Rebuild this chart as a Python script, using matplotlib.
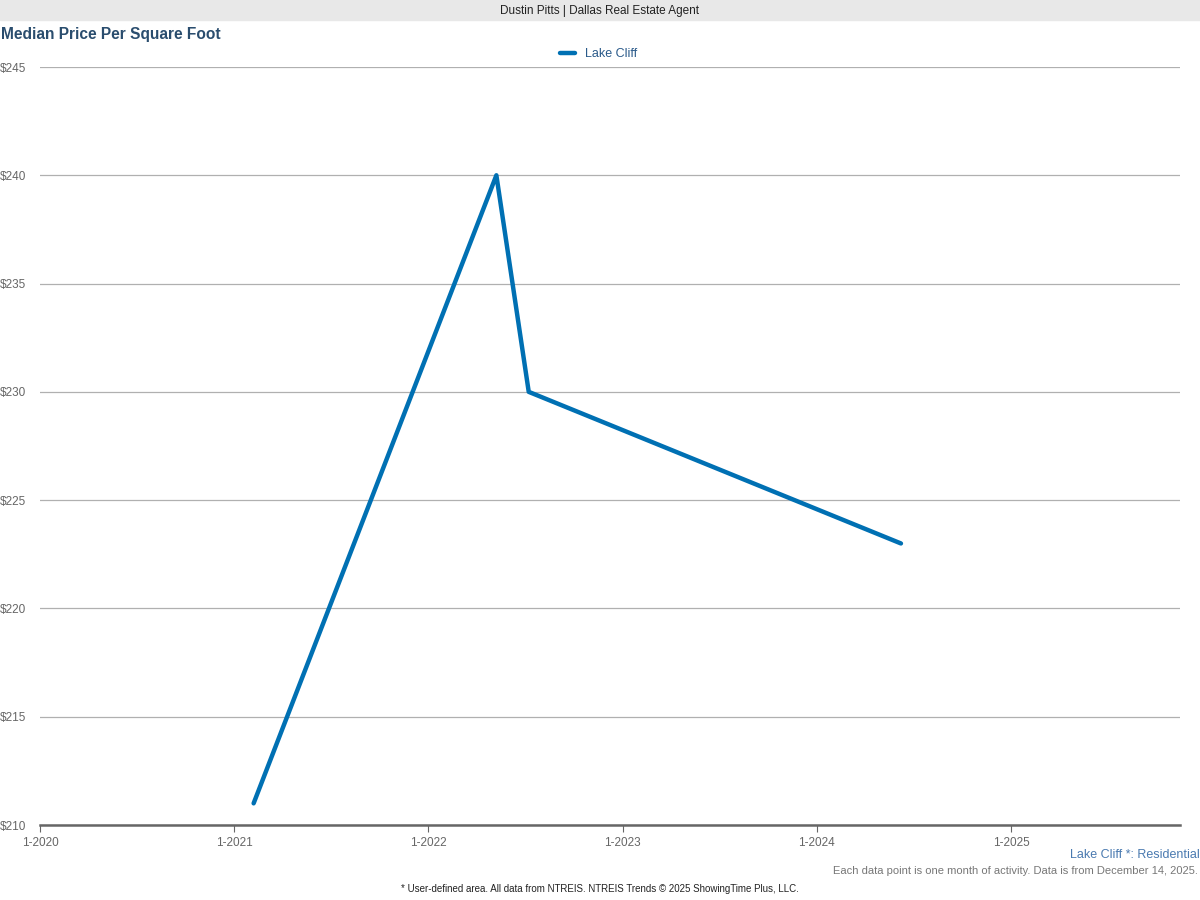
import matplotlib
matplotlib.use("Agg")
import matplotlib.pyplot as plt

# data points (year, month) and median price per sq ft
months = [(2021, 2), (2022, 5), (2022, 7), (2024, 6)]
prices = [211, 240, 230, 223]
series_name = "Lake Cliff"
year_ticks = [2020, 2021, 2022, 2023, 2024, 2025]
y_ticks = [210, 215, 220, 225, 230, 235, 240, 245]

x = [y + (m - 0.8) / 12 for y, m in months]
blue = "#0070b3"
plt.rcParams["font.family"] = ["Liberation Sans", "DejaVu Sans"]

fig = plt.figure(figsize=(12, 9), dpi=100)
ax = fig.add_axes([40 / 1200, 1 - 825 / 900, 1140 / 1200, (825 - 67) / 900])
ax.plot(x, prices, color=blue, lw=3.2, solid_capstyle="round", label=series_name)
ax.set_xlim(2020, 2020 + 1140 / 194.2)
ax.set_ylim(210, 245)
ax.set_xticks(year_ticks)
ax.set_xticklabels([f"1-{y}" for y in year_ticks])
ax.set_yticks(y_ticks)
ax.set_yticklabels([f"${v}" for v in y_ticks])
ax.grid(axis="y", color="#b0b0b0", lw=0.9)
ax.set_axisbelow(True)
for s in ["top", "right", "left"]:
    ax.spines[s].set_visible(False)
ax.spines["bottom"].set_color("#666666")
ax.spines["bottom"].set_linewidth(1.8)
ax.tick_params(axis="y", length=0, labelsize=8.5, colors="#666666", pad=4)
ax.tick_params(axis="x", length=5, color="#666666", labelsize=8.5, colors="#666666")
for lbl in ax.get_yticklabels():
    lbl.set_horizontalalignment("left")
    lbl.set_x(-35 / 1140)

ax.legend(loc="upper center", bbox_to_anchor=(0.49, 1.04), frameon=False,
          fontsize=9, handlelength=1.2, labelcolor="#2a5a8a")

# header band
fig.patches.append(plt.Rectangle((0, 1 - 20 / 900), 1, 20 / 900, transform=fig.transFigure,
                                 color="#e8e8e8", zorder=0))
fig.text(0.5, 1 - 11 / 900, "Dustin Pitts | Dallas Real Estate Agent", ha="center", va="center",
         fontsize=8.5, color="#222222")
fig.text(0.001, 1 - 35 / 900, "Median Price Per Square Foot", ha="left", va="center",
         fontsize=11.2, fontweight="bold", color="#2a4d6e")
fig.text(0.9995, 1 - 855 / 900, "Lake Cliff *: Residential", ha="right", va="center",
         fontsize=9, color="#4a7ab0")
fig.text(0.9985, 1 - 871 / 900, "Each data point is one month of activity. Data is from December 14, 2025.",
         ha="right", va="center", fontsize=8, color="#777777")
fig.text(0.5, 1 - 889 / 900, "* User-defined area. All data from NTREIS. NTREIS Trends \u00a9 2025 ShowingTime Plus, LLC.",
         ha="center", va="center", fontsize=7, color="#222222")

fig.savefig("out.png", dpi=100)
